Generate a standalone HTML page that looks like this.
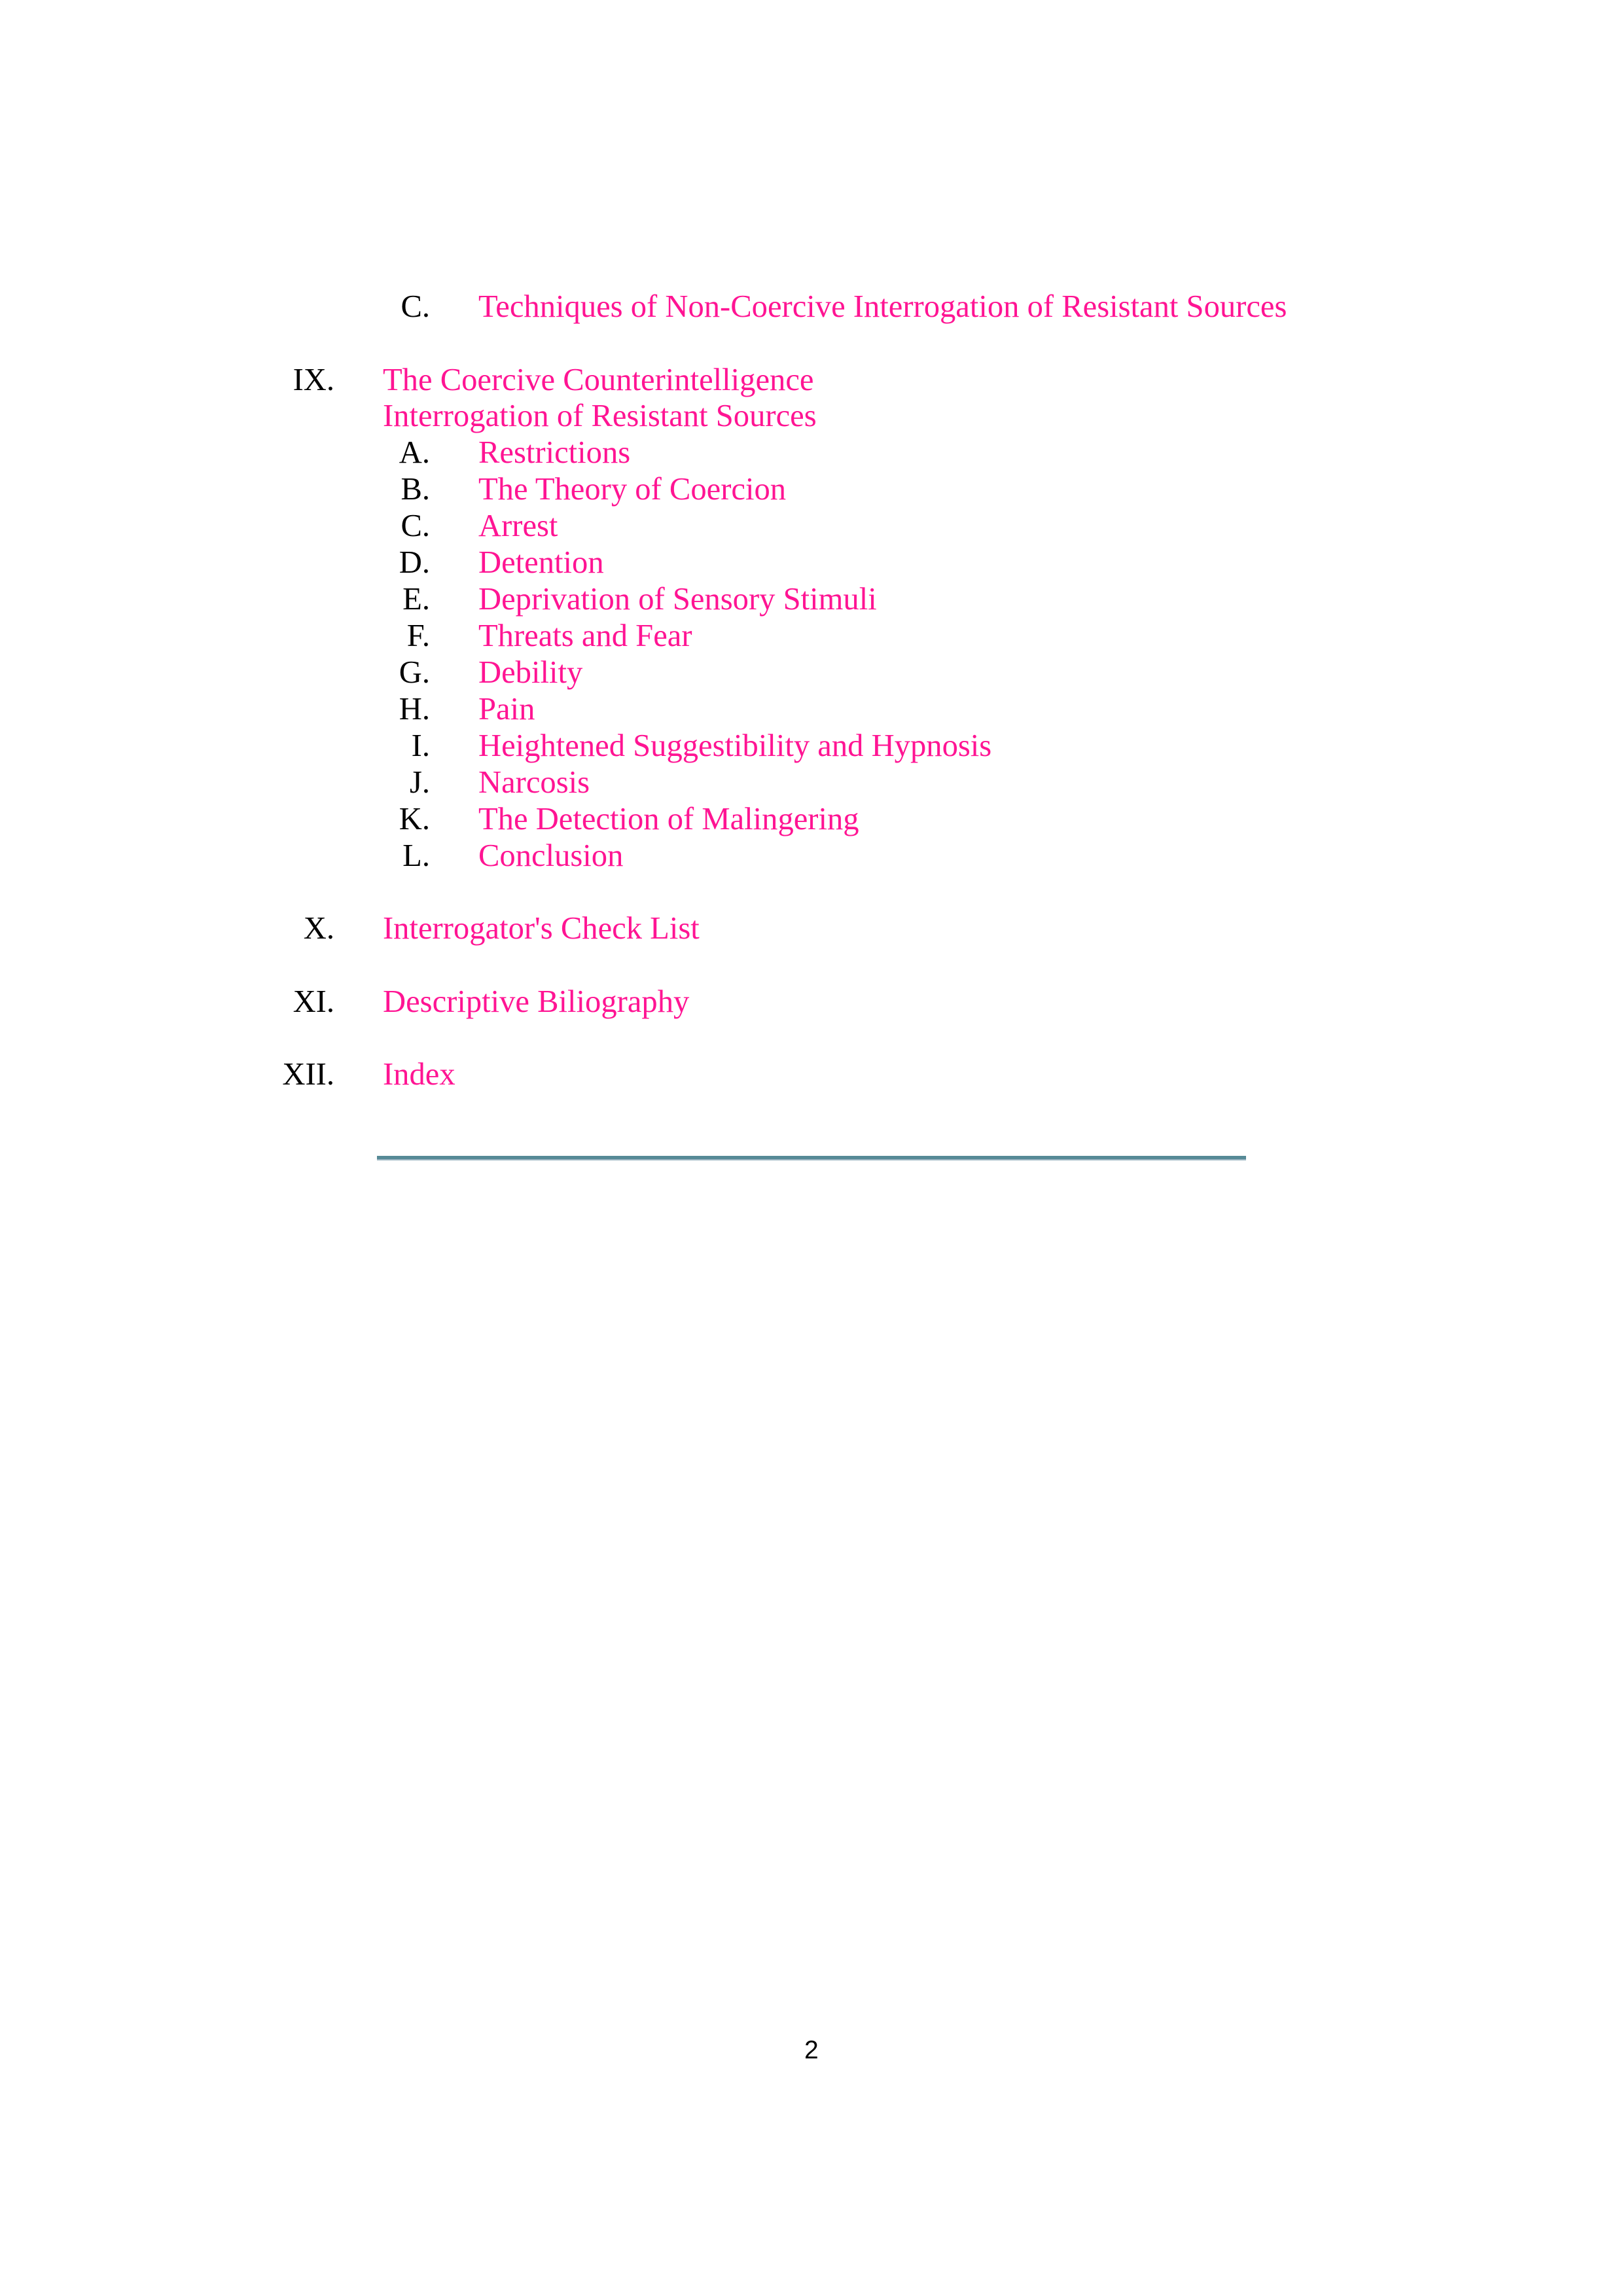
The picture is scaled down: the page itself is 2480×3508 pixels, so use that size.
<!DOCTYPE html>
<html><head><meta charset="utf-8"><style>
html,body{margin:0;padding:0;background:#fff}
body{width:2480px;height:3508px;position:relative;overflow:hidden;font-family:"Liberation Serif",serif;font-size:48.6px}
.t{position:absolute;line-height:49px;white-space:nowrap;color:#ff1493}
.n{position:absolute;line-height:49px;white-space:nowrap;color:#000;text-align:right}
</style></head><body>
<div class="n" style="right:1823px;top:444px">C.</div><div class="t" style="left:731px;top:444px">Techniques of Non-Coercive Interrogation of Resistant Sources</div>

<div class="n" style="right:1969px;top:556px">IX.</div><div class="t" style="left:585px;top:556px">The Coercive Counterintelligence</div>
<div class="t" style="left:585px;top:611px">Interrogation of Resistant Sources</div>

<div class="n" style="right:1823px;top:667px">A.</div><div class="t" style="left:731px;top:667px">Restrictions</div>
<div class="n" style="right:1823px;top:723px">B.</div><div class="t" style="left:731px;top:723px">The Theory of Coercion</div>
<div class="n" style="right:1823px;top:779px">C.</div><div class="t" style="left:731px;top:779px">Arrest</div>
<div class="n" style="right:1823px;top:835px">D.</div><div class="t" style="left:731px;top:835px">Detention</div>
<div class="n" style="right:1823px;top:891px">E.</div><div class="t" style="left:731px;top:891px">Deprivation of Sensory Stimuli</div>
<div class="n" style="right:1823px;top:947px">F.</div><div class="t" style="left:731px;top:947px">Threats and Fear</div>
<div class="n" style="right:1823px;top:1003px">G.</div><div class="t" style="left:731px;top:1003px">Debility</div>
<div class="n" style="right:1823px;top:1059px">H.</div><div class="t" style="left:731px;top:1059px">Pain</div>
<div class="n" style="right:1823px;top:1115px">I.</div><div class="t" style="left:731px;top:1115px">Heightened Suggestibility and Hypnosis</div>
<div class="n" style="right:1823px;top:1171px">J.</div><div class="t" style="left:731px;top:1171px">Narcosis</div>
<div class="n" style="right:1823px;top:1227px">K.</div><div class="t" style="left:731px;top:1227px">The Detection of Malingering</div>
<div class="n" style="right:1823px;top:1283px">L.</div><div class="t" style="left:731px;top:1283px">Conclusion</div>

<div class="n" style="right:1969px;top:1394px">X.</div><div class="t" style="left:585px;top:1394px">Interrogator's Check List</div>
<div class="n" style="right:1969px;top:1506px">XI.</div><div class="t" style="left:585px;top:1506px">Descriptive Biliography</div>
<div class="n" style="right:1969px;top:1617px">XII.</div><div class="t" style="left:585px;top:1617px">Index</div>

<div style="position:absolute;left:576px;top:1766px;width:1328px;height:5px;background:#568a96"></div>
<div style="position:absolute;left:576px;top:1771px;width:1328px;height:2px;background:#9bb5c2"></div>

<div style="position:absolute;left:1229px;top:3111px;font-family:'Liberation Sans',sans-serif;font-size:39px;line-height:44px;color:#000">2</div>
</body></html>
